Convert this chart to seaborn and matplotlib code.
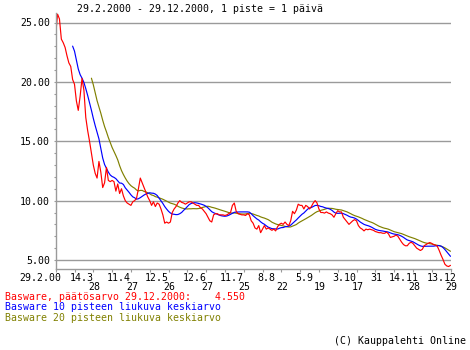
import numpy as np
import pandas as pd
import matplotlib
matplotlib.use("Agg")
import matplotlib.pyplot as plt
import matplotlib.transforms as mtransforms
from matplotlib.ticker import MultipleLocator
import seaborn as sns

# Basware closing price, one value per trading day (29.2.2000 - 29.12.2000)
price = [
    24.0, 25.7, 25.3, 23.6, 23.3, 22.9, 22.2, 21.6, 21.3, 20.2,
    19.8, 18.4, 17.6, 18.8, 20.3, 19.3, 17.0, 15.9, 15.0, 14.0,
    13.0, 12.3, 11.9, 13.3, 12.4, 11.1, 11.5, 12.8, 11.7, 11.6,
    11.7, 11.6, 10.8, 11.4, 10.6, 11.0, 10.4, 10.0, 9.8, 9.7,
    9.6, 9.9, 10.0, 10.2, 11.0, 11.9, 11.5, 11.1, 10.7, 10.3,
    10.0, 9.6, 9.9, 9.5, 9.8, 9.7, 9.3, 8.8, 8.1, 8.2,
    8.1, 8.2, 9.0, 9.3, 9.5, 9.8, 10.0, 9.85, 9.8, 9.7,
    9.8, 9.9, 9.9, 9.8, 9.7, 9.6, 9.6, 9.4, 9.3, 9.1,
    8.9, 8.6, 8.3, 8.2, 8.8, 8.9, 8.9, 8.8, 8.8, 8.8,
    8.75, 8.8, 8.9, 9.0, 9.6, 9.8, 9.1, 8.9, 8.85, 8.8,
    8.8, 8.75, 8.9, 8.8, 8.3, 8.1, 7.7, 7.6, 7.9, 7.3,
    7.6, 7.9, 7.6, 7.7, 7.6, 7.5, 7.6, 7.45, 7.8, 8.0,
    8.1, 8.0, 8.2, 8.0, 7.9, 8.3, 9.1, 8.9, 9.2, 9.7,
    9.6, 9.6, 9.3, 9.6, 9.5, 9.3, 9.5, 9.8, 10.0, 9.8,
    9.3, 9.0, 9.0, 8.95, 9.05, 8.95, 8.9, 8.8, 8.6, 8.9,
    9.15, 9.05, 9.05, 8.6, 8.4, 8.2, 8.0, 8.15, 8.3, 8.4,
    8.3, 7.9, 7.7, 7.6, 7.45, 7.6, 7.55, 7.6, 7.55, 7.5,
    7.4, 7.35, 7.3, 7.3, 7.25, 7.25, 7.35, 7.2, 6.9, 6.95,
    7.0, 7.1, 7.0, 6.75, 6.5, 6.3, 6.2, 6.2, 6.4, 6.5,
    6.4, 6.2, 6.0, 5.9, 5.8, 5.9, 6.2, 6.3, 6.4, 6.47,
    6.4, 6.3, 6.25, 6.15, 5.8, 5.4, 5.05, 4.65, 4.5, 4.45,
    4.55,
]

# Date labels every 10 trading days; row 1 = upper line, row 2 = lower line
tick_days = [0, 10, 20, 30, 40, 50, 60, 70, 80, 90, 100,
             110, 120, 130, 140, 150, 160, 170, 180, 190, 200, 210]
tick_labels = ["29.2.00", "14.3", "28", "11.4", "27", "12.5", "26", "12.6",
               "27", "11.7", "25", "8.8", "22", "5.9", "19", "3.10", "17",
               "31", "14.11", "28", "13.12", "29"]
tick_rows = [1, 1, 2, 1, 2, 1, 2, 1, 2, 1, 2, 1, 2, 1, 2, 1, 2, 1, 1, 2, 1, 2]

y_ticks = [5, 10, 15, 20, 25]
y_tick_labels = ["5.00", "10.00", "15.00", "20.00", "25.00"]

title = "29.2.2000 - 29.12.2000, 1 piste = 1 päivä"
legend_lines = [
    ("Basware, päätösarvo 29.12.2000:    4.550", "#ff0000"),
    ("Basware 10 pisteen liukuva keskiarvo", "#0000ff"),
    ("Basware 20 pisteen liukuva keskiarvo", "#808000"),
]
credit = "(C) Kauppalehti Online"

sns.set_theme(style="white")
plt.rcParams["font.family"] = ["DejaVu Sans Mono"]
FS = 7.1
GRAY = "#9a9a9a"

W, H = 470, 350
fig = plt.figure(figsize=(W / 100, H / 100), dpi=100)
fig.patch.set_facecolor("white")

x0, x1 = 55.7, 450.5      # pixel columns of day 0 and day 210
yt, yb = 13.3, 269.0      # pixel rows of the plot top and the x axis
ax = fig.add_axes([x0 / W, (H - yb) / H, (x1 - x0) / W, (yb - yt) / H])
ax.set_facecolor("white")

df = pd.DataFrame({"day": np.arange(len(price)), "price": price})
df["ma10"] = df["price"].rolling(10).mean()
df["ma20"] = df["price"].rolling(20).mean()

sns.lineplot(data=df.dropna(subset=["ma20"]), x="day", y="ma20",
             color="#808000", linewidth=0.85, ax=ax)
sns.lineplot(data=df.dropna(subset=["ma10"]), x="day", y="ma10",
             color="#0000ff", linewidth=0.85, ax=ax)
sns.lineplot(data=df, x="day", y="price", color="#ff0000",
             linewidth=0.85, ax=ax)

unit = (260.0 - 22.5) / 20.0                      # px per price unit
ymin = 5 - (yb - 260.0) / unit
ymax = 25 + (22.5 - yt) / unit
ax.set_xlim(0, 210)
ax.set_ylim(ymin, ymax)

for y in y_ticks:
    ax.axhline(y, color=GRAY, linewidth=1.0, zorder=0)

for s in ["top", "right"]:
    ax.spines[s].set_visible(False)
for s in ["left", "bottom"]:
    ax.spines[s].set_color(GRAY)
    ax.spines[s].set_linewidth(1.0)

ax.set_yticks(y_ticks)
ax.set_yticklabels(y_tick_labels, fontsize=FS, color="black")
ax.yaxis.set_minor_locator(MultipleLocator(1))
ax.tick_params(axis="y", which="both", direction="out", length=1.6,
               width=0.8, color=GRAY, pad=2.6, left=True)

ax.set_xticks(tick_days)
ax.set_xticklabels([])
ax.tick_params(axis="x", which="major", direction="out", length=2.4,
               width=0.8, color=GRAY, bottom=True)
ax.set_xlabel("")
ax.set_ylabel("")

# Date labels: two rows below the axis
trans = mtransforms.blended_transform_factory(ax.transData, fig.transFigure)
for d, lab, row in zip(tick_days, tick_labels, tick_rows):
    base = 280.8 if row == 1 else 290.5
    if d == 0:
        t = mtransforms.offset_copy(trans, fig=fig, x=6, y=0, units="dots")
        ha = "right"
    else:
        t = mtransforms.offset_copy(trans, fig=fig, x=-5, y=0, units="dots")
        ha = "left"
    ax.text(d, 1 - base / H, lab, transform=t, ha=ha, va="baseline",
            fontsize=FS, color="black", clip_on=False)

fig.text(76.7 / W, 1 - 12.0 / H, title, ha="left", va="baseline",
         fontsize=FS, color="black")

for i, (txt, col) in enumerate(legend_lines):
    fig.text(5 / W, 1 - (300.0 + 10.4 * i) / H, txt, ha="left",
             va="baseline", fontsize=FS, color=col)

fig.text(466 / W, 1 - 344.0 / H, credit, ha="right", va="baseline",
         fontsize=FS, color="black")

fig.savefig("out.png", dpi=100, facecolor="white")
